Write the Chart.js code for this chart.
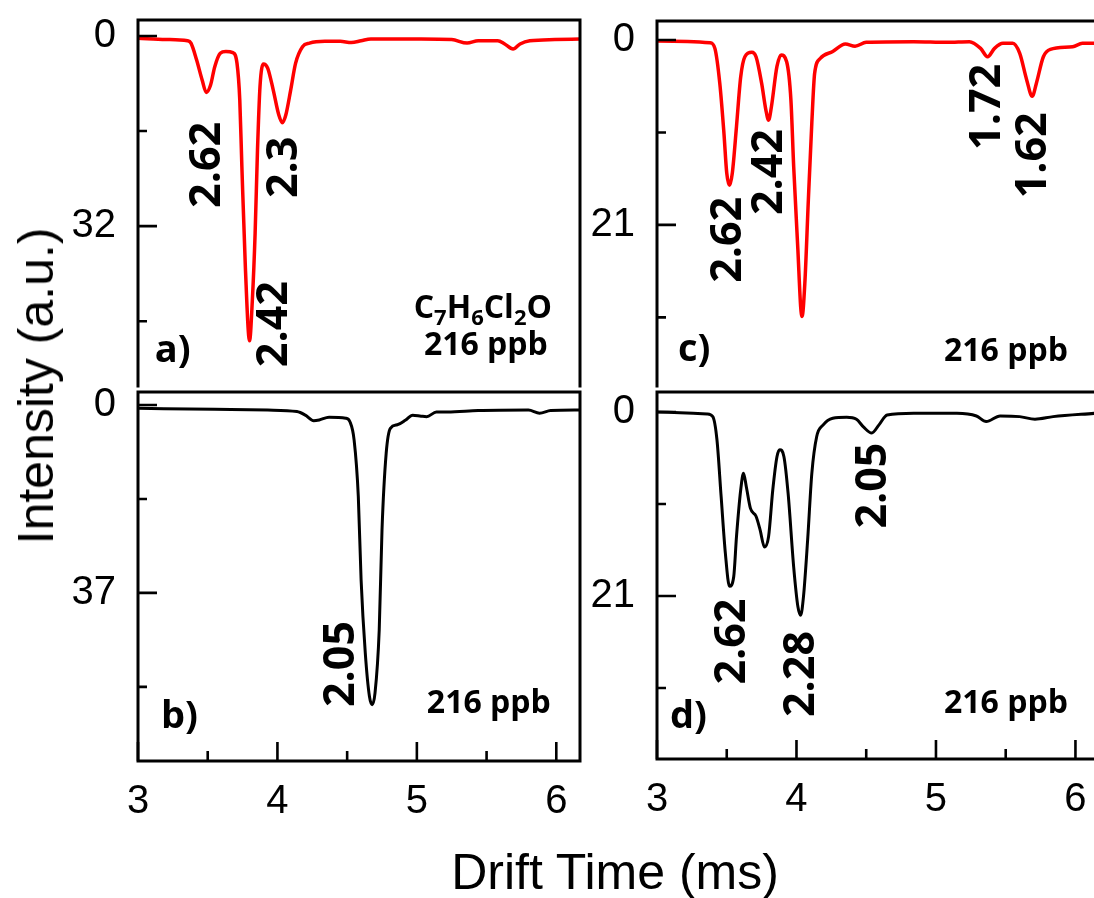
<!DOCTYPE html>
<html>
<head>
<meta charset="utf-8">
<title>Drift time spectra</title>
<script src="https://cdn.jsdelivr.net/npm/chart.js@4.4.0/dist/chart.umd.min.js"></script>
<style>
  html, body { margin: 0; padding: 0; background: #fff; overflow: hidden; }
  #figure { position: relative; width: 1094px; height: 898px; overflow: hidden; }
  #figure canvas { position: absolute; }
  .axis-title {
    position: absolute;
    font-family: "Liberation Sans", Arial, sans-serif;
    font-size: 50px;
    color: #000;
    white-space: nowrap;
    line-height: 1;
  }
  #intensity-title { left: 36px; top: 386px; transform: translate(-50%, -50%) rotate(-90deg); }
  #drift-title { left: 615px; top: 872px; transform: translate(-50%, -50%); }
</style>
</head>
<body>
<div id="figure">
  <canvas id="panelA" width="525" height="390" style="left:60px;top:0px"></canvas>
  <canvas id="panelB" width="525" height="452" style="left:60px;top:388px"></canvas>
  <canvas id="panelC" width="509" height="390" style="left:585px;top:0px"></canvas>
  <canvas id="panelD" width="509" height="452" style="left:585px;top:388px"></canvas>
  <div class="axis-title" id="intensity-title">Intensity (a.u.)</div>
  <div class="axis-title" id="drift-title">Drift Time (ms)</div>
</div>
<script>
/* ================= DATA ================= */
// drift time (ms) / intensity (a.u.), intensity axis runs downward
const aTime = [3.00, 3.20, 3.355, 3.38, 3.42, 3.46, 3.49, 3.52, 3.55, 3.59, 3.63, 3.68, 3.71, 3.73, 3.745, 3.77, 3.80, 3.82, 3.84, 3.857, 3.875, 3.90, 3.93, 3.97, 4.01, 4.035, 4.06, 4.095, 4.13, 4.18, 4.23, 4.34, 4.45, 4.53, 4.60, 4.67, 5.03, 5.25, 5.36, 5.44, 5.58, 5.63, 5.69, 5.74, 5.81, 5.99, 6.17];
const aSignal = [0.4, 0.6, 0.8, 1.2, 4.0, 7.4, 9.5, 8.3, 5.2, 2.9, 2.6, 2.8, 4.6, 10.8, 22, 38.9, 51.3, 44.5, 33.2, 19.2, 8.5, 4.7, 5.4, 9.1, 13.3, 14.6, 13.3, 9.1, 4.6, 1.8, 1.2, 0.9, 0.9, 1.1, 0.8, 0.5, 0.5, 0.6, 1.2, 0.8, 0.8, 1.35, 2.2, 1.35, 0.8, 0.6, 0.5];

const bTime = [3.00, 3.55, 3.93, 4.14, 4.20, 4.26, 4.30, 4.37, 4.49, 4.52, 4.55, 4.58, 4.60, 4.63, 4.66, 4.68, 4.70, 4.73, 4.75, 4.78, 4.81, 4.86, 4.92, 4.97, 5.03, 5.07, 5.14, 5.22, 5.44, 5.80, 5.88, 5.96, 6.17];
const bSignal = [0.65, 0.85, 1.0, 1.3, 2.0, 3.1, 2.95, 2.4, 2.6, 3.3, 6.9, 18, 34.4, 48.8, 57.4, 59.0, 56.7, 44.3, 24.6, 9.5, 4.6, 3.9, 2.95, 2.0, 2.2, 2.3, 1.4, 1.4, 1.1, 1.0, 1.6, 1.1, 1.0];

const cTime = [3.00, 3.38, 3.415, 3.45, 3.48, 3.50, 3.52, 3.54, 3.57, 3.60, 3.63, 3.68, 3.71, 3.75, 3.78, 3.80, 3.82, 3.86, 3.89, 3.93, 3.96, 3.98, 4.01, 4.03, 4.04, 4.06, 4.085, 4.11, 4.13, 4.17, 4.26, 4.35, 4.42, 4.50, 4.84, 5.08, 5.24, 5.32, 5.37, 5.42, 5.48, 5.55, 5.60, 5.65, 5.69, 5.72, 5.77, 5.82, 5.98, 6.05, 6.14];
const cSignal = [0.1, 0.3, 0.95, 4.9, 10.6, 15.1, 16.5, 15.1, 9.8, 4.2, 1.9, 1.4, 1.9, 4.9, 7.9, 9.1, 7.6, 3.0, 1.7, 2.5, 6.8, 14.4, 23.8, 30.3, 31.4, 27.6, 18.2, 9.4, 3.8, 2.1, 1.3, 0.45, 0.7, 0.26, 0.19, 0.26, 0.19, 0.95, 1.9, 0.95, 0.38, 0.38, 1.5, 4.5, 6.4, 4.9, 1.9, 1.06, 0.76, 0.38, 0.38];

const dTime = [3.00, 3.36, 3.40, 3.43, 3.46, 3.49, 3.52, 3.55, 3.57, 3.60, 3.62, 3.64, 3.67, 3.71, 3.74, 3.77, 3.80, 3.83, 3.86, 3.88, 3.91, 3.94, 3.98, 4.01, 4.03, 4.05, 4.08, 4.11, 4.145, 4.19, 4.26, 4.36, 4.43, 4.48, 4.54, 4.59, 4.65, 4.84, 5.15, 5.29, 5.36, 5.46, 5.60, 5.71, 5.84, 6.14];
const dSignal = [0.0, 0.23, 0.53, 3.2, 9.7, 16.1, 19.9, 18.8, 14.2, 8.9, 7.0, 8.5, 11.0, 11.9, 13.5, 15.4, 14.2, 8.9, 5.1, 4.3, 5.1, 9.3, 17.7, 22.2, 23.2, 21.1, 14.6, 7.0, 2.8, 1.5, 0.72, 0.6, 0.83, 1.7, 2.4, 1.5, 0.34, 0.15, 0.15, 0.46, 1.1, 0.46, 0.53, 0.83, 0.53, 0.15];

// tick values
const timeTicks = [3, 4, 5, 6];
const timeMinorTicks = [3.5, 4.5, 5.5];
const aTicks = [0, 32], aMinorTicks = [16, 48];
const bTicks = [0, 37], bMinorTicks = [18.5, 55.5];
const cTicks = [0, 21], cMinorTicks = [10.5, 31.5];
const dTicks = [0, 21], dMinorTicks = [10.5, 31.5];

// reduced mobility labels next to the peaks (t = drift time, v = intensity)
const aPeakLabels = [
  { text: "2.62", t: 3.502, v: 21.7 },
  { text: "2.3", t: 4.054, v: 22.1 },
  { text: "2.42", t: 3.982, v: 48.5 }
];
const bPeakLabels = [{ text: "2.05", t: 4.462, v: 51.0 }];
const cPeakLabels = [
  { text: "2.62", t: 3.516, v: 22.7 },
  { text: "2.42", t: 3.810, v: 15.0 },
  { text: "1.72", t: 5.373, v: 7.6 },
  { text: "1.62", t: 5.703, v: 13.1 }
];
const dPeakLabels = [
  { text: "2.62", t: 3.545, v: 26.2 },
  { text: "2.28", t: 4.039, v: 29.9 },
  { text: "2.05", t: 4.556, v: 8.4 }
];

/* ================= DRAWING HELPERS ================= */
const BOLD = '"Open Sans", "Noto Sans", sans-serif';

function drawFormula(ctx, parts, size) {
  const subSize = Math.round(size * 0.68);
  const widths = parts.map(([s, sub]) => {
    ctx.font = `700 ${sub ? subSize : size}px ${BOLD}`;
    return ctx.measureText(s).width;
  });
  let cx = -widths.reduce((p, w) => p + w, 0) / 2;
  ctx.textAlign = "left";
  parts.forEach(([s, sub], i) => {
    ctx.font = `700 ${sub ? subSize : size}px ${BOLD}`;
    ctx.fillText(s, cx, sub ? size * 0.2 : 0);
    cx += widths[i];
  });
}

function drawNote(ctx, note, x, y) {
  ctx.save();
  ctx.translate(x.getPixelForValue(note.t), y.getPixelForValue(note.v));
  ctx.fillStyle = "#000";
  if (note.vertical) {
    ctx.rotate(-Math.PI / 2);
    ctx.textBaseline = "middle";
  } else {
    ctx.textBaseline = "alphabetic";
  }
  if (note.parts) {
    drawFormula(ctx, note.parts, note.size);
  } else {
    ctx.font = `700 ${note.size}px ${BOLD}`;
    ctx.textAlign = note.align || "center";
    ctx.fillText(note.text, 0, 0);
  }
  ctx.restore();
}

// box outline, inward ticks and the in-plot text
const framePlugin = {
  id: "frame",
  afterDatasetsDraw(chart, args, opts) {
    const { ctx, chartArea: a, scales: { x, y } } = chart;
    const corner = {
      lt: [a.left, a.top], rt: [a.right, a.top],
      lb: [a.left, a.bottom], rb: [a.right, a.bottom]
    };
    ctx.save();
    ctx.strokeStyle = "#000";
    ctx.lineWidth = 3;
    ctx.lineJoin = "miter";
    ctx.lineCap = "square";
    ctx.beginPath();
    opts.outline.forEach((c, i) => {
      const [px, py] = corner[c];
      if (i === 0) ctx.moveTo(px, py); else ctx.lineTo(px, py);
    });
    ctx.stroke();

    ctx.lineCap = "butt";
    ctx.lineWidth = 2.6;
    ctx.beginPath();
    opts.yMajor.forEach(v => {
      const py = y.getPixelForValue(v);
      ctx.moveTo(a.left, py); ctx.lineTo(a.left + 19, py);
    });
    opts.yMinor.forEach(v => {
      const py = y.getPixelForValue(v);
      ctx.moveTo(a.left, py); ctx.lineTo(a.left + 9, py);
    });
    if (opts.timeAxis) {
      timeTicks.forEach(v => {
        const px = x.getPixelForValue(v);
        ctx.moveTo(px, a.bottom); ctx.lineTo(px, a.bottom - 19);
      });
      timeMinorTicks.forEach(v => {
        const px = x.getPixelForValue(v);
        ctx.moveTo(px, a.bottom); ctx.lineTo(px, a.bottom - 10);
      });
    }
    ctx.stroke();

    opts.notes.forEach(n => drawNote(ctx, n, x, y));
    ctx.restore();
  }
};

// tick labels may hang outside the plot box, so the scales ask for no extra room
function noOverhang(s) {
  s.paddingTop = 0;
  s.paddingBottom = 0;
  s.paddingLeft = 0;
  s.paddingRight = 0;
}

function makePanel(id, cfg) {
  const notes = cfg.peakLabels.map(p => ({ ...p, vertical: true, size: 43 })).concat(cfg.extraNotes);
  return new Chart(document.getElementById(id), {
    type: "line",
    data: {
      datasets: [{
        data: cfg.time.map((t, i) => ({ x: t, y: cfg.signal[i] })),
        borderColor: cfg.color,
        borderWidth: cfg.lineWidth,
        pointRadius: 0,
        cubicInterpolationMode: "monotone",
        fill: false
      }]
    },
    options: {
      responsive: false,
      animation: false,
      events: [],
      layout: { padding: { top: cfg.padTop, right: cfg.padRight, left: 0, bottom: 0 } },
      plugins: {
        legend: { display: false },
        tooltip: { enabled: false },
        frame: {
          outline: cfg.outline,
          yMajor: cfg.yTicks,
          yMinor: cfg.yMinor,
          timeAxis: cfg.timeAxis,
          notes
        }
      },
      scales: {
        x: {
          type: "linear",
          min: 3,
          max: cfg.xMax,
          grid: { display: false, drawTicks: false },
          border: { display: false },
          ticks: {
            display: cfg.timeAxis,
            color: "#000",
            padding: 17,
            maxRotation: 0,
            font: { family: '"Liberation Sans", Arial, sans-serif', size: 40 }
          },
          afterBuildTicks: s => { s.ticks = timeTicks.map(v => ({ value: v })); },
          afterFit: s => { s.height = cfg.xAxisHeight; noOverhang(s); }
        },
        y: {
          type: "linear",
          reverse: true,
          min: cfg.yMin,
          max: cfg.yMax,
          grid: { display: false, drawTicks: false },
          border: { display: false },
          ticks: {
            color: "#000",
            padding: 22,
            font: { family: '"Liberation Sans", Arial, sans-serif', size: 40 }
          },
          afterBuildTicks: s => { s.ticks = cfg.yTicks.map(v => ({ value: v })); },
          afterFit: s => { s.width = cfg.yAxisWidth; noOverhang(s); }
        }
      }
    },
    plugins: [framePlugin]
  });
}

/* ================= FIGURE ================= */
function buildFigure() {
  makePanel("panelA", {
    time: aTime, signal: aSignal, color: "#ff0000", lineWidth: 3.5,
    xMax: 6.17, yMin: -2.69, yMax: 58.9,
    yTicks: aTicks, yMinor: aMinorTicks,
    padTop: 20, padRight: 5, yAxisWidth: 78, xAxisHeight: 4,
    timeAxis: false, outline: ["lb", "lt", "rt", "rb"],
    peakLabels: aPeakLabels,
    extraNotes: [
      { text: "a)", t: 3.12, v: 54.9, size: 38, align: "left" },
      { parts: [["C", 0], ["7", 1], ["H", 0], ["6", 1], ["Cl", 0], ["2", 1], ["O", 0]], t: 5.473, v: 47.5, size: 32 },
      { text: "216 ppb", t: 5.495, v: 53.7, size: 32 }
    ]
  });

  makePanel("panelB", {
    time: bTime, signal: bSignal, color: "#000000", lineWidth: 3,
    xMax: 6.17, yMin: -2.56, yMax: 70.1,
    yTicks: bTicks, yMinor: bMinorTicks,
    padTop: 4, padRight: 5, yAxisWidth: 78, xAxisHeight: 79,
    timeAxis: true, outline: ["lt", "rt", "rb", "lb", "lt"],
    peakLabels: bPeakLabels,
    extraNotes: [
      { text: "b)", t: 3.165, v: 63.6, size: 38, align: "left" },
      { text: "216 ppb", t: 5.516, v: 60.6, size: 32 }
    ]
  });

  makePanel("panelC", {
    time: cTime, signal: cSignal, color: "#ff0000", lineWidth: 3.5,
    xMax: 6.133, yMin: -2.16, yMax: 39.3,
    yTicks: cTicks, yMinor: cMinorTicks,
    padTop: 21, padRight: 0, yAxisWidth: 72, xAxisHeight: 4,
    timeAxis: false, outline: ["lb", "lt", "rt"],
    peakLabels: cPeakLabels,
    extraNotes: [
      { text: "c)", t: 3.151, v: 36.5, size: 38, align: "left" },
      { text: "216 ppb", t: 5.502, v: 36.5, size: 32 }
    ]
  });

  makePanel("panelD", {
    time: dTime, signal: dSignal, color: "#000000", lineWidth: 3,
    xMax: 6.133, yMin: -2.28, yMax: 39.6,
    yTicks: dTicks, yMinor: dMinorTicks,
    padTop: 4, padRight: 0, yAxisWidth: 72, xAxisHeight: 81,
    timeAxis: true, outline: ["rt", "lt", "lb", "rb"],
    peakLabels: dPeakLabels,
    extraNotes: [
      { text: "d)", t: 3.093, v: 36.1, size: 38, align: "left" },
      { text: "216 ppb", t: 5.502, v: 34.3, size: 32 }
    ]
  });
}

document.addEventListener("DOMContentLoaded", () => {
  Promise.all([
    document.fonts.load('700 40px "Open Sans"'),
    document.fonts.load('40px "Liberation Sans"')
  ]).then(buildFigure, buildFigure);
});
</script>
</body>
</html>
